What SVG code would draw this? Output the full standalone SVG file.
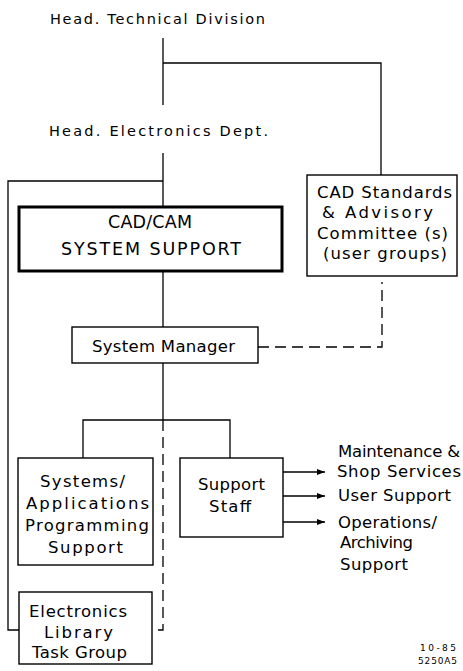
<svg xmlns="http://www.w3.org/2000/svg" width="463" height="671" viewBox="0 0 463 671">
<style>
.t{font-family:"DejaVu Sans","Liberation Sans",sans-serif;fill:#000;}
.h{font-size:14.5px;}
.b{font-size:16.5px;}
.c{font-size:17.5px;}
.f{font-size:9px;}
.box{fill:#fff;stroke:#000;stroke-width:1.4;}
.thick{fill:#fff;stroke:#000;stroke-width:3;}
.ln{fill:none;stroke:#000;stroke-width:1.3;}
.ds{fill:none;stroke:#000;stroke-width:1.3;stroke-dasharray:11 6;}
</style>
<defs>
<marker id="ah" markerWidth="8" markerHeight="6" refX="8" refY="3" orient="auto" markerUnits="userSpaceOnUse">
<path d="M0,0 L8,3 L0,6 Z" fill="#000"/>
</marker>
</defs>
<g id="connectors">
<path class="ln" d="M163,38 V105"/>
<path class="ln" d="M163,63 H381 V175"/>
<path class="ln" d="M163,153 V207"/>
<path class="ln" d="M163,181 H8 V630 H19"/>
<path class="ln" d="M163,271 V327"/>
<path class="ln" d="M163,363 V420"/>
<path class="ln" d="M83,458 V420 H230 V458"/>
<path class="ds" d="M258,347 H382 V282"/>
<path class="ds" d="M163,420 V630 H152"/>
<path class="ln" d="M283,472 H325" marker-end="url(#ah)"/>
<path class="ln" d="M283,496 H325" marker-end="url(#ah)"/>
<path class="ln" d="M283,522 H325" marker-end="url(#ah)"/>
</g>
<g id="head-technical">
<text class="t h" x="50" y="24" textLength="215" lengthAdjust="spacing">Head. Technical Division</text>
</g>
<g id="head-electronics">
<text class="t h" x="49" y="136" textLength="219" lengthAdjust="spacing">Head. Electronics Dept.</text>
</g>
<g id="cadcam">
<rect class="thick" x="19" y="207" width="263" height="64"/>
<text class="t c" x="108" y="228" textLength="84" lengthAdjust="spacing">CAD/CAM</text>
<text class="t c" x="61" y="255" textLength="180" lengthAdjust="spacing">SYSTEM SUPPORT</text>
</g>
<g id="cad-standards">
<rect class="box" x="307" y="175" width="150" height="101"/>
<text class="t b" x="317" y="198" textLength="135" lengthAdjust="spacing">CAD Standards</text>
<text class="t b" x="322" y="218" textLength="111" lengthAdjust="spacing">&amp; Advisory</text>
<text class="t b" x="317" y="239" textLength="131" lengthAdjust="spacing">Committee (s)</text>
<text class="t b" x="323" y="259" textLength="124" lengthAdjust="spacing">(user groups)</text>
</g>
<g id="system-manager">
<rect class="box" x="72" y="327" width="186" height="36"/>
<text class="t b" x="92" y="352" textLength="143" lengthAdjust="spacing">System Manager</text>
</g>
<g id="systems-applications">
<rect class="box" x="18" y="458" width="135" height="107"/>
<text class="t b" x="40" y="487" textLength="85" lengthAdjust="spacing">Systems/</text>
<text class="t b" x="26" y="509" textLength="123" lengthAdjust="spacing">Applications</text>
<text class="t b" x="25" y="531" textLength="124" lengthAdjust="spacing">Programming</text>
<text class="t b" x="48" y="553" textLength="75" lengthAdjust="spacing">Support</text>
</g>
<g id="support-staff">
<rect class="box" x="180" y="458" width="103" height="79"/>
<text class="t b" x="198" y="490" textLength="67" lengthAdjust="spacing">Support</text>
<text class="t b" x="209" y="512" textLength="42" lengthAdjust="spacing">Staff</text>
</g>
<g id="electronics-library">
<rect class="box" x="19" y="592" width="133" height="72"/>
<text class="t b" x="29" y="617" textLength="98" lengthAdjust="spacing">Electronics</text>
<text class="t b" x="44" y="638" textLength="69" lengthAdjust="spacing">Library</text>
<text class="t b" x="32" y="658" textLength="95" lengthAdjust="spacing">Task Group</text>
</g>
<g id="maintenance">
<text class="t b" x="338" y="457" textLength="122" lengthAdjust="spacing">Maintenance &amp;</text>
<text class="t b" x="337" y="477" textLength="124" lengthAdjust="spacing">Shop Services</text>
</g>
<g id="user-support">
<text class="t b" x="338" y="501" textLength="113" lengthAdjust="spacing">User Support</text>
</g>
<g id="operations">
<text class="t b" x="338" y="528" textLength="99" lengthAdjust="spacing">Operations/</text>
<text class="t b" x="340" y="548" textLength="73" lengthAdjust="spacing">Archiving</text>
<text class="t b" x="340" y="570" textLength="68" lengthAdjust="spacing">Support</text>
</g>
<g id="footer">
<text class="t f" x="420" y="651" textLength="36" lengthAdjust="spacing">10-85</text>
<text class="t f" x="418" y="664" textLength="39" lengthAdjust="spacing">5250A5</text>
</g>
</svg>
